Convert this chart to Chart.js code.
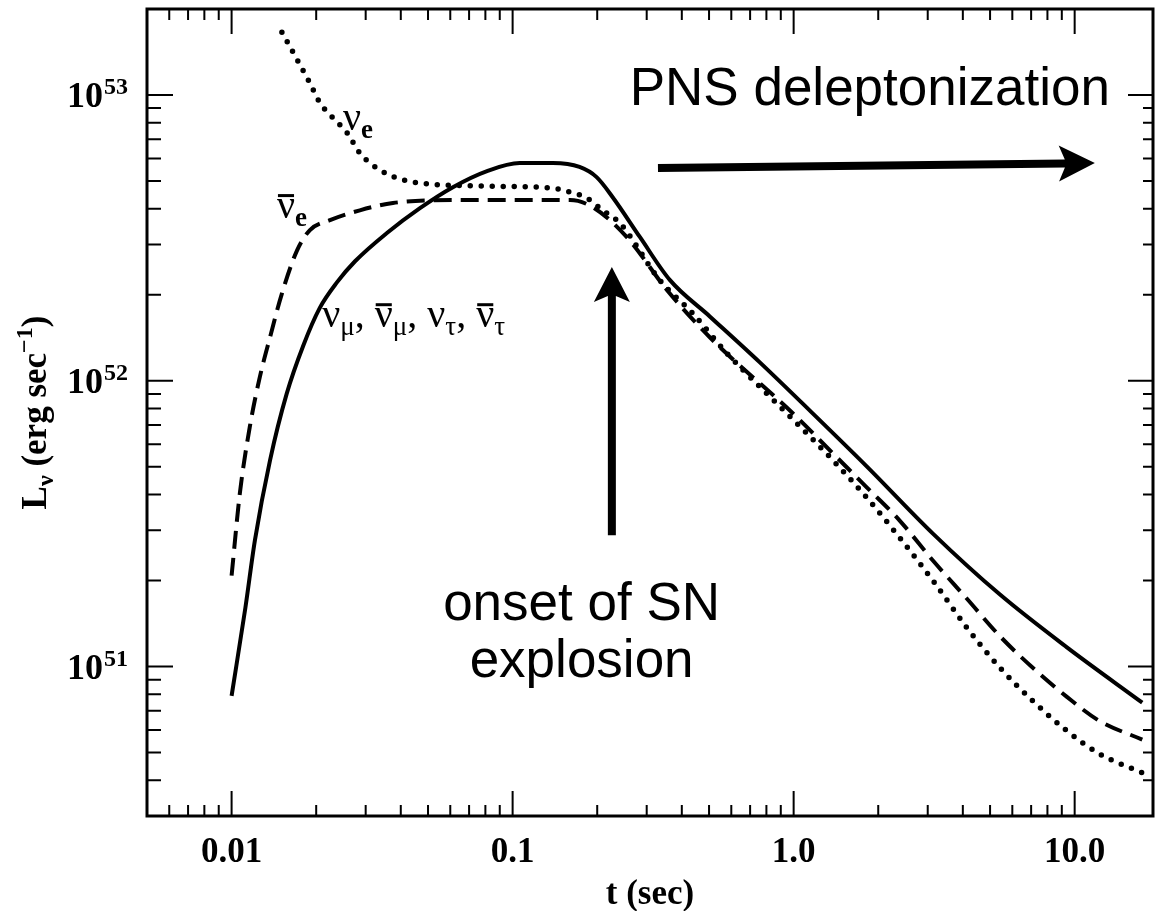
<!DOCTYPE html>
<html lang="en">
<head>
  <meta charset="UTF-8" />
  <title>Neutrino luminosities vs time</title>
  <script src="https://cdn.jsdelivr.net/npm/chart.js"></script>
  <style>
    body { margin: 0; background: #fff; }
    #wrap { position: relative; width: 1156px; height: 911px; }
  </style>
</head>
<body>
  <div id="wrap"><canvas id="lum"></canvas></div>

  <script>
    // values: t in sec, L in erg/sec
    const muT   = [0.0100, 0.0112, 0.0121, 0.0137, 0.0157, 0.0180, 0.0206, 0.0237, 0.0275, 0.0357, 0.0468, 0.0613, 0.0811, 0.106, 0.139, 0.173, 0.199, 0.227, 0.284, 0.363, 0.503, 0.758, 1.14, 1.82, 3.13, 5.41, 9.36, 17.4];
    const muL   = [7.9e50, 1.61e51, 2.76e51, 5.27e51, 9.0e51, 1.33e52, 1.80e52, 2.21e52, 2.62e52, 3.29e52, 4.02e52, 4.76e52, 5.42e52, 5.78e52, 5.78e52, 5.6e52, 5.16e52, 4.39e52, 3.18e52, 2.25e52, 1.68e52, 1.16e52, 7.88e51, 5.02e51, 2.92e51, 1.79e51, 1.17e51, 7.48e50];

    const nueT  = [0.0151, 0.0171, 0.0190, 0.0206, 0.0230, 0.0258, 0.0286, 0.0329, 0.0388, 0.0468, 0.0811, 0.139, 0.160, 0.184, 0.209, 0.241, 0.334, 0.438, 0.578, 0.945, 1.38, 1.82, 2.38, 3.13, 4.13, 5.41, 7.08, 9.36, 12.2, 17.4];
    const nueL  = [1.66e53, 1.33e53, 1.10e53, 9.4e52, 8.3e52, 7.36e52, 6.26e52, 5.55e52, 5.12e52, 4.92e52, 4.8e52, 4.72e52, 4.57e52, 4.36e52, 3.95e52, 3.56e52, 2.25e52, 1.72e52, 1.25e52, 7.7e51, 5.27e51, 3.9e51, 2.83e51, 2.0e51, 1.37e51, 9.93e50, 7.6e50, 5.97e50, 4.96e50, 4.25e50];

    const anueT = [0.0100, 0.0107, 0.0116, 0.0126, 0.0137, 0.0151, 0.0171, 0.0190, 0.0224, 0.0286, 0.0375, 0.0614, 0.106, 0.160, 0.193, 0.255, 0.354, 0.503, 0.993, 1.38, 1.82, 2.38, 3.13, 4.13, 5.41, 7.08, 9.36, 12.2, 17.4];
    const anueL = [2.08e51, 4.04e51, 6.87e51, 1.03e52, 1.42e52, 2.02e52, 2.86e52, 3.37e52, 3.65e52, 3.95e52, 4.19e52, 4.29e52, 4.29e52, 4.29e52, 4.05e52, 3.18e52, 2.08e52, 1.42e52, 7.7e51, 5.57e51, 4.24e51, 3.25e51, 2.35e51, 1.73e51, 1.28e51, 9.92e50, 7.85e50, 6.47e50, 5.55e50];

    // axis ticks
    const xTicks      = [0.01, 0.1, 1, 10];
    const xTickLabels = ['0.01', '0.1', '1.0', '10.0'];
    const yTicks      = [1e51, 1e52, 1e53];
    const yTickExp    = ['51', '52', '53'];

    const SERIF = "'Liberation Serif', 'Times New Roman', serif";
    const SANS  = "'Liberation Sans', Arial, sans-serif";

    const pts = (ts, ls) => ts.map((t, i) => ({ x: t, y: ls[i] }));

    // 1..9 x 10^n marks strictly inside the axis range
    function logMarks(min, max) {
      const out = [];
      for (let e = Math.floor(Math.log10(min)); e <= Math.ceil(Math.log10(max)); e++) {
        for (let k = 1; k < 10; k++) {
          const v = k * Math.pow(10, e);
          if (v > min * 1.0001 && v < max / 1.0001) out.push({ v, major: k === 1 });
        }
      }
      return out;
    }

    // text with sub/superscripts and overbars, parts = [{t, sub, sup, bar, bold}]
    function richWidth(ctx, parts, o) {
      let w = 0;
      parts.forEach(p => {
        ctx.font = (p.bold || o.bold ? 'bold ' : '') + (p.sub || p.sup ? o.small : o.size) + 'px ' + SERIF;
        w += ctx.measureText(p.t).width;
      });
      return w;
    }
    function drawRich(ctx, x, y, parts, o) {
      let cx = x;
      parts.forEach(p => {
        ctx.font = (p.bold || o.bold ? 'bold ' : '') + (p.sub || p.sup ? o.small : o.size) + 'px ' + SERIF;
        const dy = p.sub ? o.drop : (p.sup ? -o.rise : 0);
        ctx.fillText(p.t, cx, y + dy);
        const w = ctx.measureText(p.t).width;
        if (p.bar) ctx.fillRect(cx + 1, y - o.barH, w - 2, 3);
        cx += w;
      });
    }

    function arrow(ctx, x0, y0, x1, y1, w, headL, headW) {
      const ang = Math.atan2(y1 - y0, x1 - x0), len = Math.hypot(x1 - x0, y1 - y0);
      ctx.save();
      ctx.translate(x0, y0);
      ctx.rotate(ang);
      ctx.beginPath();
      ctx.moveTo(0, -w / 2);
      ctx.lineTo(len - headL + 6, -w / 2);
      ctx.lineTo(len - headL, -headW / 2);
      ctx.lineTo(len, 0);
      ctx.lineTo(len - headL, headW / 2);
      ctx.lineTo(len - headL + 6, w / 2);
      ctx.lineTo(0, w / 2);
      ctx.closePath();
      ctx.fill();
      ctx.restore();
    }

    const curveLabels = [
      { x: 0.0249, y: 7.54e52, parts: [{ t: 'ν' }, { t: 'e', sub: true, bold: true }] },
      { x: 0.0145, y: 3.71e52, parts: [{ t: 'ν', bar: true }, { t: 'e', sub: true, bold: true }] },
      { x: 0.0210, y: 1.54e52, parts: [
          { t: 'ν' }, { t: 'μ', sub: true }, { t: ', ' },
          { t: 'ν', bar: true }, { t: 'μ', sub: true }, { t: ', ' },
          { t: 'ν' }, { t: 'τ', sub: true }, { t: ', ' },
          { t: 'ν', bar: true }, { t: 'τ', sub: true }] }
    ];

    const framePlugin = {
      id: 'frame',
      afterDatasetsDraw(chart) {
        const { ctx, chartArea: a, scales: { x, y } } = chart;
        ctx.save();
        ctx.strokeStyle = '#000';
        ctx.fillStyle = '#000';

        // frame + inward ticks on all four sides
        ctx.lineWidth = 3;
        ctx.strokeRect(a.left, a.top, a.right - a.left, a.bottom - a.top);
        ctx.lineWidth = 2;
        ctx.beginPath();
        logMarks(x.min, x.max).forEach(m => {
          const px = x.getPixelForValue(m.v), len = m.major ? 25 : 11;
          ctx.moveTo(px, a.bottom); ctx.lineTo(px, a.bottom - len);
          ctx.moveTo(px, a.top);    ctx.lineTo(px, a.top + len);
        });
        logMarks(y.min, y.max).forEach(m => {
          const py = y.getPixelForValue(m.v);
          ctx.moveTo(a.left, py);  ctx.lineTo(a.left + (m.major ? 26 : 14), py);
          ctx.moveTo(a.right, py); ctx.lineTo(a.right - (m.major ? 25 : 10), py);
        });
        ctx.stroke();

        // tick labels
        ctx.font = 'bold 35px ' + SERIF;
        ctx.textAlign = 'center';
        ctx.textBaseline = 'middle';
        xTicks.forEach((v, i) => ctx.fillText(xTickLabels[i], x.getPixelForValue(v), a.bottom + 37));

        ctx.textBaseline = 'alphabetic';
        yTicks.forEach((v, i) => {
          const py = y.getPixelForValue(v);
          ctx.font = 'bold 24px ' + SERIF;
          ctx.textAlign = 'right';
          ctx.fillText(yTickExp[i], a.left - 19, py - 1);
          const sw = ctx.measureText(yTickExp[i]).width;
          ctx.font = 'bold 36px ' + SERIF;
          ctx.fillText('10', a.left - 20 - sw, py + 12);
        });

        // axis titles
        ctx.font = 'bold 35px ' + SERIF;
        ctx.textAlign = 'center';
        ctx.textBaseline = 'middle';
        ctx.fillText('t (sec)', (a.left + a.right) / 2, 895);

        const yTitle = [{ t: 'L' }, { t: 'ν', sub: true }, { t: ' (erg sec' }, { t: '−1', sup: true }, { t: ')' }];
        const yo = { size: 35, small: 24, drop: 7, rise: 14, bold: true };
        ctx.save();
        ctx.translate(46, (a.top + a.bottom) / 2);
        ctx.rotate(-Math.PI / 2);
        ctx.textAlign = 'left';
        ctx.textBaseline = 'alphabetic';
        drawRich(ctx, -richWidth(ctx, yTitle, yo) / 2, 0, yTitle, yo);
        ctx.restore();

        // curve labels
        ctx.textAlign = 'left';
        ctx.textBaseline = 'alphabetic';
        const lo = { size: 40, small: 27, drop: 8, rise: 0, barH: 24 };
        curveLabels.forEach(l => drawRich(ctx, x.getPixelForValue(l.x), y.getPixelForValue(l.y), l.parts, lo));

        // annotations
        ctx.font = '53px ' + SANS;
        ctx.fillText('PNS deleptonization', x.getPixelForValue(0.261), y.getPixelForValue(9.23e52));
        ctx.textAlign = 'center';
        ctx.fillText('onset of SN', x.getPixelForValue(0.176), y.getPixelForValue(1.45e51));
        ctx.fillText('explosion', x.getPixelForValue(0.176), y.getPixelForValue(9.2e50));

        arrow(ctx, x.getPixelForValue(0.329), y.getPixelForValue(5.55e52),
                   x.getPixelForValue(11.8), y.getPixelForValue(5.78e52), 8, 36, 36);
        arrow(ctx, x.getPixelForValue(0.2255), y.getPixelForValue(2.88e51),
                   x.getPixelForValue(0.2255), y.getPixelForValue(2.5e52), 8, 35, 36);
        ctx.restore();
      }
    };

    new Chart(document.getElementById('lum'), {
      type: 'line',
      data: {
        datasets: [
          { label: 'νμ, ν̄μ, ντ, ν̄τ', data: pts(muT, muL), borderColor: '#000', borderWidth: 4,
            pointRadius: 0, cubicInterpolationMode: 'monotone', fill: false },
          { label: 'ν̄e', data: pts(anueT, anueL), borderColor: '#000', borderWidth: 4, borderDash: [18, 9],
            pointRadius: 0, cubicInterpolationMode: 'monotone', fill: false },
          { label: 'νe', data: pts(nueT, nueL), borderColor: '#000', borderWidth: 5.5, borderDash: [0, 11],
            borderCapStyle: 'round', pointRadius: 0, cubicInterpolationMode: 'monotone', fill: false }
        ]
      },
      options: {
        responsive: true,
        maintainAspectRatio: false,
        animation: false,
        layout: { padding: { top: 9, right: 3, left: 0, bottom: 0 } },
        plugins: { legend: { display: false }, tooltip: { enabled: false } },
        scales: {
          x: {
            type: 'logarithmic', min: 0.005, max: 19,
            ticks: { display: false }, grid: { display: false }, border: { display: false },
            afterFit: s => { s.height = 95; }
          },
          y: {
            type: 'logarithmic', min: 3e50, max: 2e53,
            ticks: { display: false }, grid: { display: false }, border: { display: false },
            afterFit: s => { s.width = 147; }
          }
        }
      },
      plugins: [framePlugin]
    });
  </script>
</body>
</html>
